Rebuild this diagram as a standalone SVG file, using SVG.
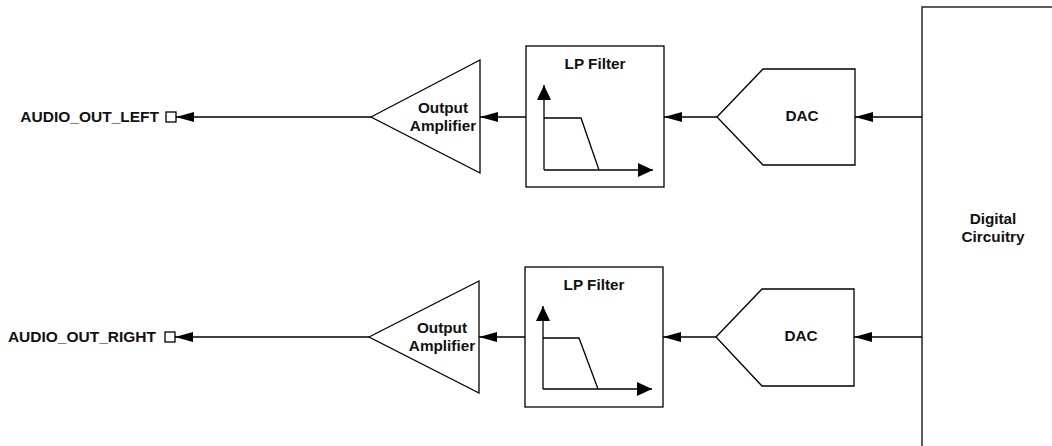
<svg xmlns="http://www.w3.org/2000/svg" width="1052" height="446" viewBox="0 0 1052 446">
<style>
.s{fill:#fff;stroke:#000;stroke-width:1.3}
.d{fill:#fff;stroke:#333;stroke-width:1.6}
.c{fill:none;stroke:#000;stroke-width:1.3}
.g{fill:none;stroke:#000;stroke-width:1.3}
.t{font-family:"Liberation Sans",Arial,sans-serif;font-weight:bold;font-size:15.3px;fill:#111;text-anchor:middle}
.te{font-family:"Liberation Sans",Arial,sans-serif;font-weight:bold;font-size:15.5px;fill:#111;text-anchor:end}
</style>
<defs>
<marker id="arr" viewBox="0 0 18 10" markerWidth="18" markerHeight="10" refX="18" refY="5" orient="auto" markerUnits="userSpaceOnUse">
<path d="M0,0 L18,5 L0,10 z" fill="#000"/>
</marker>
<marker id="ax" viewBox="0 0 15 14" markerWidth="15" markerHeight="14" refX="15" refY="7" orient="auto" markerUnits="userSpaceOnUse">
<path d="M0,0 L15,7 L0,14 z" fill="#000"/>
</marker>
</defs>
<rect width="1052" height="446" fill="#fff"/>

<g id="digital">
<rect class="d" x="922" y="7" width="142" height="460"/>
<text class="t" x="993" y="224">Digital</text>
<text class="t" x="993" y="242">Circuitry</text>
</g>

<g id="dac_left">
<polygon class="s" points="717,117 763,69 855,69 855,165 763,165"/>
<text class="t" x="802" y="121">DAC</text>
</g>
<g id="dac_right">
<polygon class="s" points="716,337 762,289 854,289 854,386 762,386"/>
<text class="t" x="801" y="341">DAC</text>
</g>

<g id="lp_left">
<rect class="s" x="526" y="46" width="138" height="141"/>
<text class="t" x="595" y="69">LP Filter</text>
<path class="g" d="M544,170 L544,85" marker-end="url(#ax)"/>
<path class="g" d="M544,170 L653,170" marker-end="url(#ax)"/>
<path class="g" d="M544,118 L581,118 L599,170"/>
</g>
<g id="lp_right">
<rect class="s" x="525" y="267" width="138" height="140"/>
<text class="t" x="594" y="290">LP Filter</text>
<path class="g" d="M543,389 L543,306" marker-end="url(#ax)"/>
<path class="g" d="M543,389 L652,389" marker-end="url(#ax)"/>
<path class="g" d="M543,338 L579,338 L598,389"/>
</g>

<g id="amp_left">
<polygon class="s" points="371,117 480,60 480,173"/>
<text class="t" x="443" y="113">Output</text>
<text class="t" x="443" y="131">Amplifier</text>
</g>
<g id="amp_right">
<polygon class="s" points="369,337 479,281 479,393"/>
<text class="t" x="442" y="333">Output</text>
<text class="t" x="442" y="351">Amplifier</text>
</g>

<g id="port_left">
<rect class="s" x="166" y="112" width="10" height="10"/>
<text class="te" x="159" y="122">AUDIO_OUT_LEFT</text>
</g>
<g id="port_right">
<rect class="s" x="165" y="332" width="10" height="10"/>
<text class="te" x="156" y="342">AUDIO_OUT_RIGHT</text>
</g>

<g id="connectors">
<line class="c" x1="922" y1="117" x2="855" y2="117" marker-end="url(#arr)"/>
<line class="c" x1="717" y1="117" x2="664" y2="117" marker-end="url(#arr)"/>
<line class="c" x1="526" y1="117" x2="480" y2="117" marker-end="url(#arr)"/>
<line class="c" x1="371" y1="117" x2="176" y2="117" marker-end="url(#arr)"/>
<line class="c" x1="922" y1="337" x2="854" y2="337" marker-end="url(#arr)"/>
<line class="c" x1="716" y1="337" x2="663" y2="337" marker-end="url(#arr)"/>
<line class="c" x1="525" y1="337" x2="479" y2="337" marker-end="url(#arr)"/>
<line class="c" x1="369" y1="337" x2="175" y2="337" marker-end="url(#arr)"/>
</g>
</svg>
